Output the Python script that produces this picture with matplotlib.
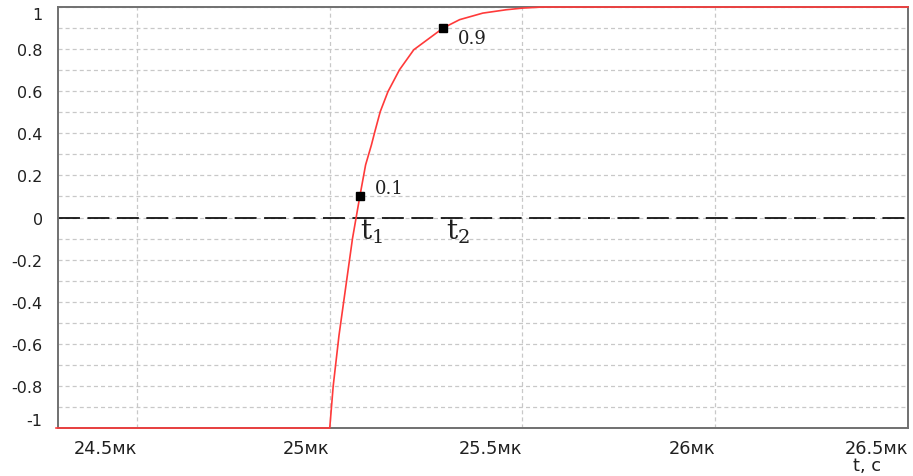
import matplotlib
matplotlib.use('Agg')
import matplotlib.pyplot as plt

# transient response, time in microseconds
t_us = [24.29, 25.0, 25.009, 25.024, 25.059, 25.078, 25.093, 25.108, 25.117,
        25.131, 25.151, 25.181, 25.218, 25.294, 25.337, 25.397, 25.458,
        25.501, 25.553, 26.5]
u = [-1.0, -1.0, -0.80, -0.56, -0.10, 0.10, 0.25, 0.344, 0.408,
     0.503, 0.598, 0.702, 0.797, 0.90, 0.94, 0.971, 0.987,
     0.995, 1.0, 1.0]

# 10% and 90% levels with their times
mark_t = [25.078, 25.294]
mark_u = [0.1, 0.9]
mark_text = ['0.1', '0.9']
time_names = [r't$_{\mathregular{1}}$', r't$_{\mathregular{2}}$']

xticks = [24.5, 25.0, 25.5, 26.0, 26.5]
xtick_labels = ['24.5мк', '25мк', '25.5мк', '26мк', '26.5мк']
yticks = [1.0, 0.8, 0.6, 0.4, 0.2, 0.0, -0.2, -0.4, -0.6, -0.8, -1.0]
ytick_labels = ['1', '0.8', '0.6', '0.4', '0.2', '0', '-0.2', '-0.4', '-0.6', '-0.8', '-1']
ygrid = [0.9, 0.7, 0.5, 0.3, 0.1, -0.1, -0.3, -0.5, -0.7, -0.9]

plt.rcParams['lines.scale_dashes'] = False
plt.rcParams['mathtext.fontset'] = 'dejavuserif'
text_col = '#202020'

fig = plt.figure(figsize=(9.13, 4.77), dpi=100)
ax = fig.add_axes([0.0635, 0.1006, 0.9310, 0.8826])

ax.set_xlim(24.295, 26.5)
ax.set_ylim(-1.0, 1.0)

# dashed grid: vertical at the time ticks, horizontal every 0.1
ax.set_xticks(xticks)
ax.set_xticklabels(xtick_labels)
ax.set_yticks(yticks)
ax.set_yticklabels(ytick_labels)
ax.set_yticks(ygrid, minor=True)
grid_kw = dict(color='#c8c8c8', lw=0.9, dashes=(2.9, 2.2))
ax.grid(True, which='major', axis='x', **grid_kw)
ax.grid(True, which='both', axis='y', **grid_kw)
ax.set_axisbelow(True)

ax.tick_params(axis='both', which='both', length=0, colors=text_col)
ax.tick_params(axis='x', labelsize=12.8, pad=8)
ax.tick_params(axis='y', labelsize=11.5, pad=11)
for lab in ax.get_xticklabels():
    lab.set_ha('right')
ylabs = ax.get_yticklabels()
ylabs[0].set_va('top')
ylabs[-1].set_va('bottom')

for sp in ax.spines.values():
    sp.set_color('#707070')
    sp.set_linewidth(1.4)

# zero level
ax.axhline(0, color='black', lw=1.2, dashes=(15.8, 5.4), zorder=2)

ax.plot(t_us, u, color='#ff3a3a', lw=1.2, zorder=3, clip_on=False)
ax.plot(mark_t, mark_u, 's', color='black', ms=6.3, zorder=4)

for x, y, s in zip(mark_t, mark_u, mark_text):
    dy = 8 if y < 0.5 else -10
    ax.annotate(s, xy=(x, y), xytext=(15, dy), textcoords='offset pixels',
                ha='left', va='center', fontsize=13, family='DejaVu Serif',
                color=text_col)

for x, s, dx in zip(mark_t, time_names, [0, 3]):
    ax.annotate(s, xy=(x, 0), xytext=(dx, -13), textcoords='offset pixels',
                ha='left', va='center', fontsize=20, family='DejaVu Serif',
                color=text_col)

fig.text(853 / 913, 1 - 466 / 477, 't, c', ha='left', va='center',
         fontsize=12.8, color=text_col)

fig.savefig('out.png', dpi=100)
